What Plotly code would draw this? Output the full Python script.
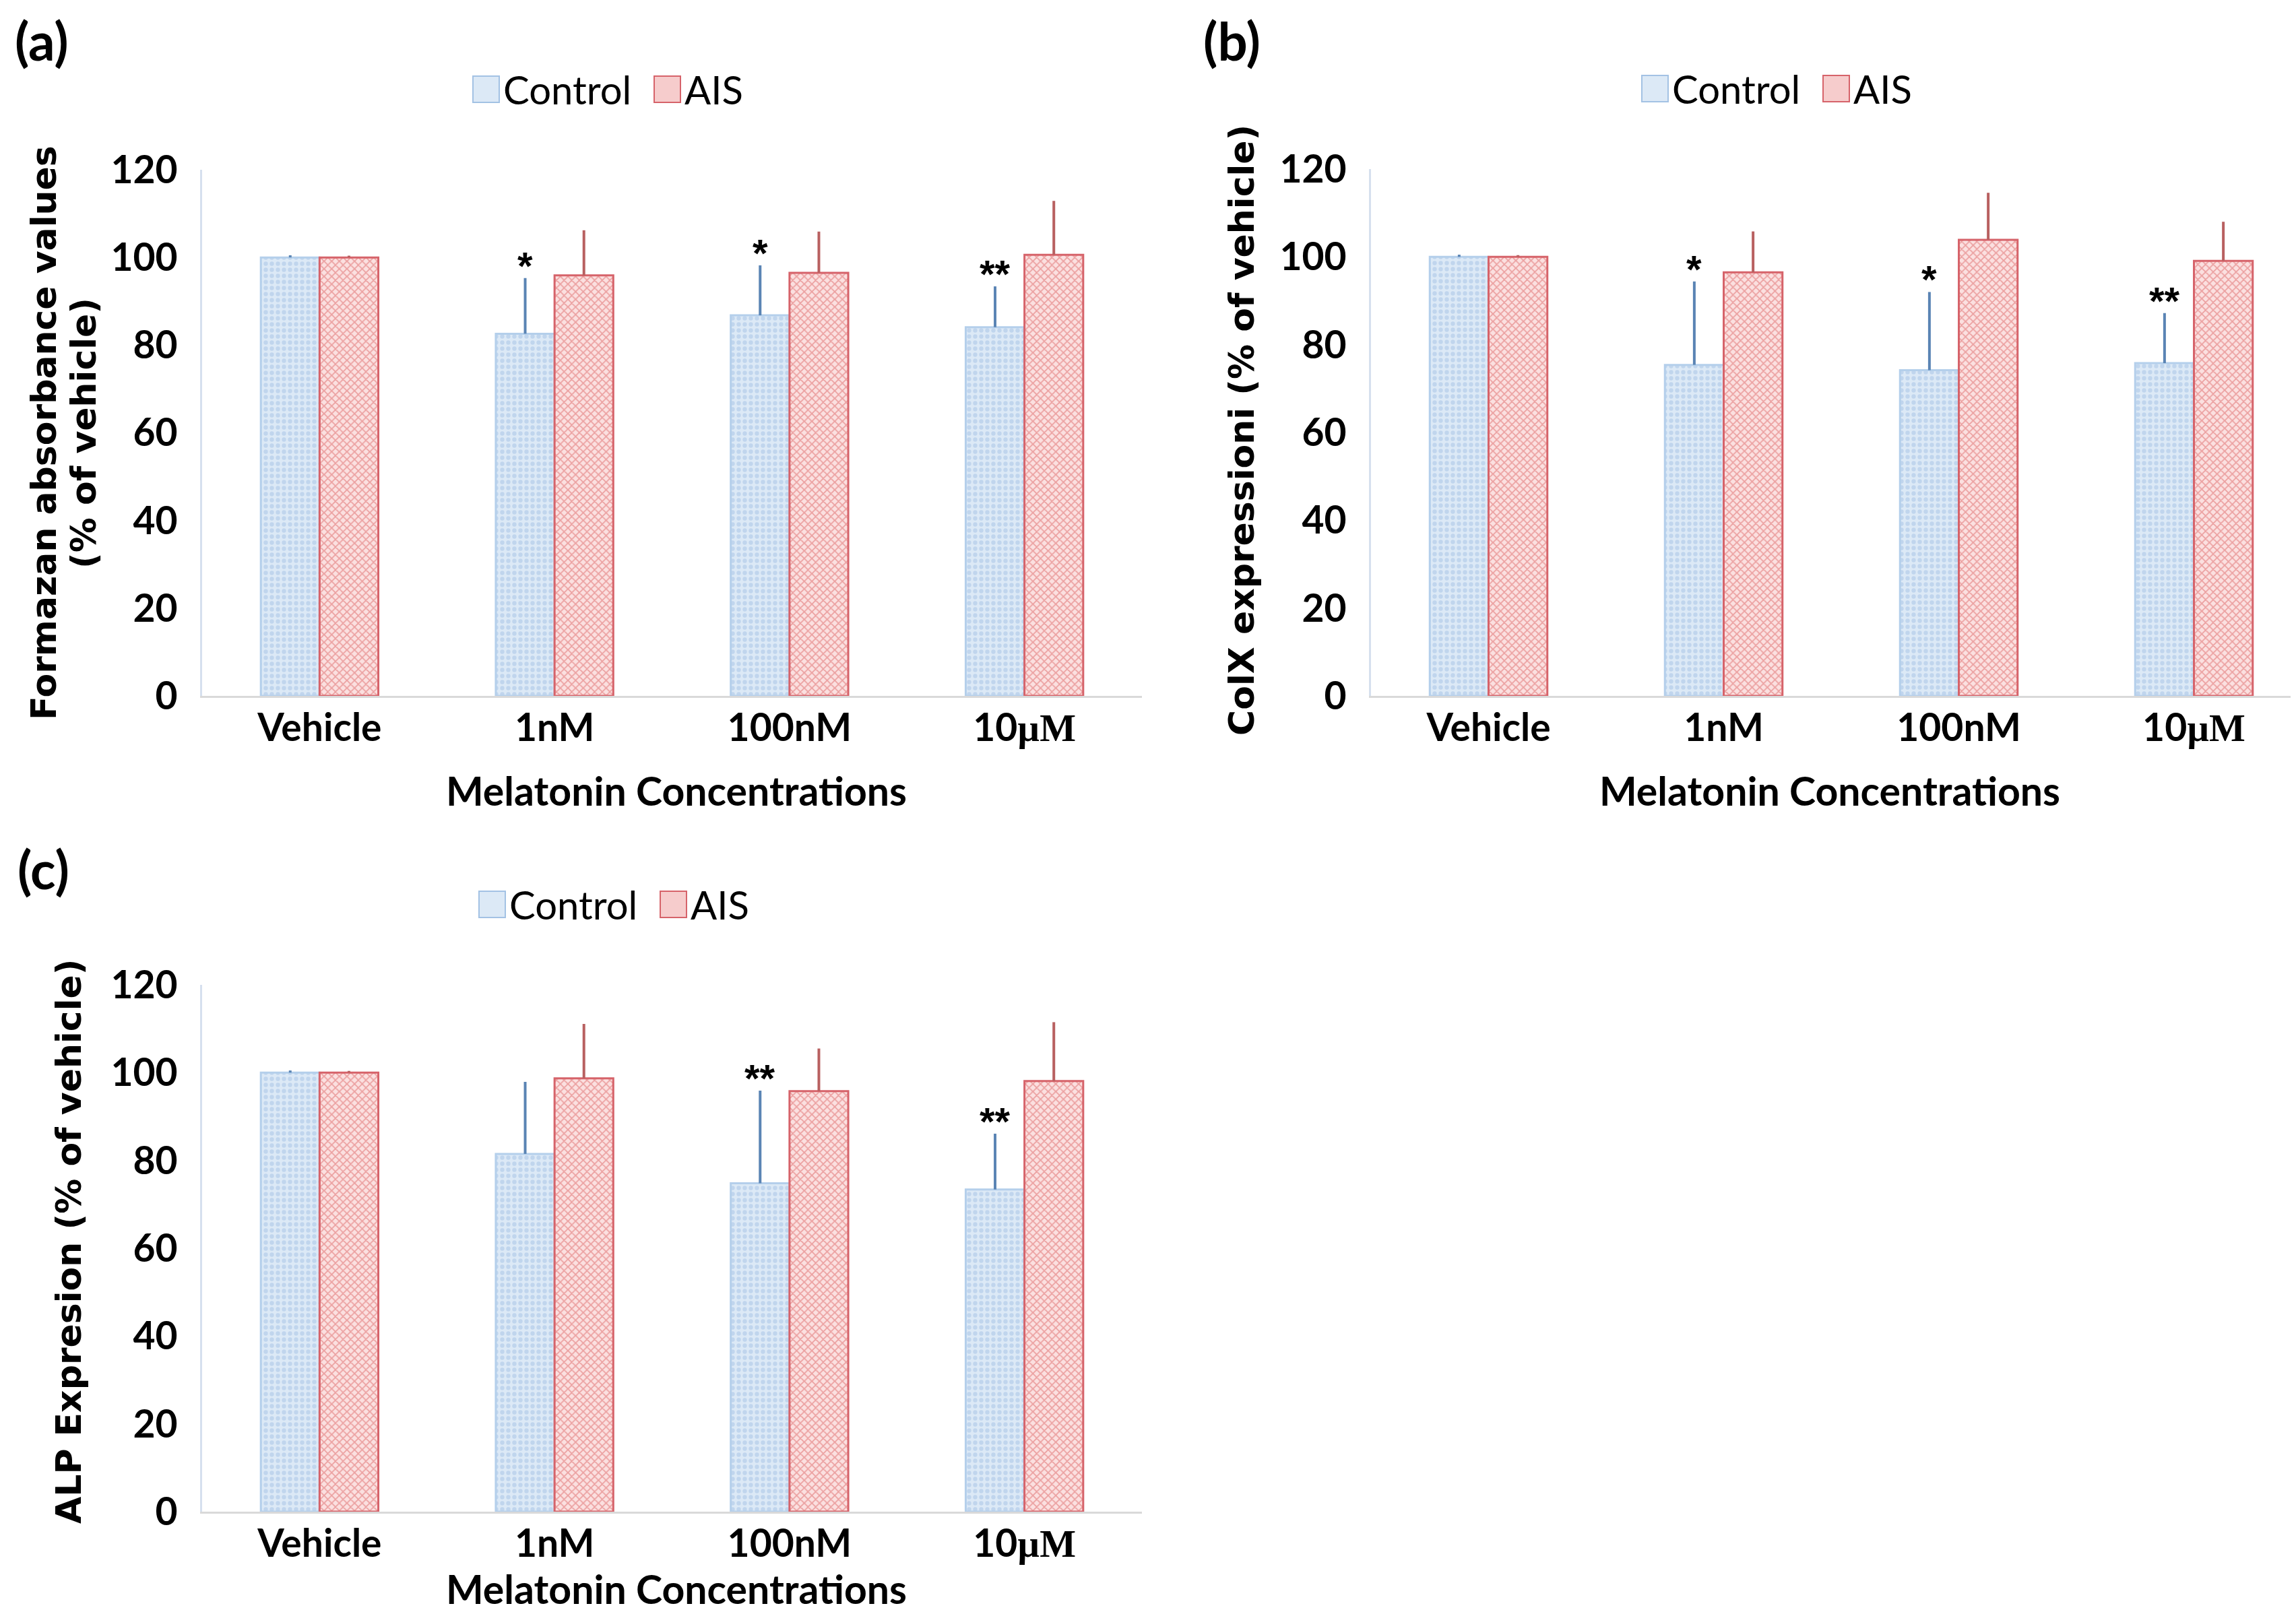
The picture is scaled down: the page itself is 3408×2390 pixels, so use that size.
import plotly.graph_objects as go

W, H = 3408, 2390
OFF = 8  # page body margin offset compensation

categories = ["Vehicle", "1nM", "100nM", "10µM"]
tick_labels = ["Vehicle", "1nM", "100nM",
               "10<span style=\"font-family:'Liberation Serif'\">µM</span>"]
y_ticks = [0, 20, 40, 60, 80, 100, 120]

# Panel (a): Formazan absorbance
a_control = [100, 82.6, 86.8, 84.1]
a_control_err = [0.5, 12.7, 11.4, 9.3]
a_ais = [100, 95.9, 96.5, 100.6]
a_ais_err = [0.4, 10.3, 9.4, 12.3]
a_stars = ["", "*", "*", "**"]

# Panel (b): ColX expression
b_control = [100, 75.4, 74.2, 75.8]
b_control_err = [0.5, 19.0, 17.8, 11.4]
b_ais = [100, 96.5, 103.9, 99.1]
b_ais_err = [0.4, 9.3, 10.7, 8.9]
b_stars = ["", "*", "*", "**"]

# Panel (c): ALP expression
c_control = [100, 81.5, 74.8, 73.4]
c_control_err = [0.5, 16.4, 21.1, 12.7]
c_ais = [100, 98.7, 95.8, 98.1]
c_ais_err = [0.4, 12.4, 9.7, 13.4]
c_stars = ["", "", "**", "**"]

series_names = ["Control", "AIS"]

panels = [
    dict(label="(a)", ctrl=a_control, ctrl_err=a_control_err, ais=a_ais, ais_err=a_ais_err,
         stars=a_stars, left=300, right=1695, y0=1033, y120=252, xr=[-0.5, 3.5],
         ytitle=["Formazan absorbance values", "(% of vehicle)"], ytx=[65, 124],
         ycenter=643, lab_xy=(20, 60), xt_y=1173, xcenter=1004, ldx=0),
    dict(label="(b)", ctrl=b_control, ctrl_err=b_control_err, ais=b_ais, ais_err=b_ais_err,
         stars=b_stars, left=2035, right=3416, y0=1033, y120=251, xr=[-0.5, 3.457],
         ytitle=["ColX expressioni (% of vehicle)"], ytx=[1843],
         ycenter=639, lab_xy=(1784, 60), xt_y=1173, xcenter=2716, ldx=0),
    dict(label="(c)", ctrl=c_control, ctrl_err=c_control_err, ais=c_ais, ais_err=c_ais_err,
         stars=c_stars, left=300, right=1695, y0=2244, y120=1462, xr=[-0.5, 3.5],
         ytitle=["ALP Expresion (% of vehicle)"], ytx=[102],
         ycenter=1843, lab_xy=(24, 1290), xt_y=2358, xcenter=1004, ldx=9),
]

def px(x):
    return min(1.0, max(0.0, (x - OFF) / W))

def py(y):
    return min(1.0, max(0.0, 1 - (y - OFF) / H))

CTRL_BG = "#dce9f6"
CTRL_FG = "#a3c2e4"
CTRL_LINE = "#b4cfeb"
CTRL_ERR = "#5a84b4"
AIS_BG = "#fbe0e0"
AIS_FG = "#dc6060"
AIS_LINE = "#d6636a"
AIS_ERR = "#b86060"

TICK_FONT = dict(family="Lato", size=57, color="black", weight="bold")
TITLE_FONT = dict(family="DejaVu Sans", size=52, color="black", weight="bold")

fig = go.Figure()
annotations = []
shapes = []
layout = {}

for k, p in enumerate(panels):
    sfx = "" if k == 0 else str(k + 1)
    xa, ya = "x" + sfx, "y" + sfx
    fig.add_trace(go.Bar(
        x=categories, y=p["ctrl"], name=series_names[0], xaxis=xa, yaxis=ya,
        showlegend=False,
        marker=dict(color=CTRL_BG, line=dict(color=CTRL_LINE, width=3),
                    pattern=dict(shape=".", fgcolor=CTRL_FG, bgcolor=CTRL_BG,
                                 size=9, solidity=0.4)),
        error_y=dict(type="data", symmetric=False, array=p["ctrl_err"],
                     arrayminus=[0] * len(categories), color=CTRL_ERR,
                     thickness=4, width=0),
    ))
    fig.add_trace(go.Bar(
        x=categories, y=p["ais"], name=series_names[1], xaxis=xa, yaxis=ya,
        showlegend=False,
        marker=dict(color=AIS_BG, line=dict(color=AIS_LINE, width=3),
                    pattern=dict(shape="x", fgcolor=AIS_FG, bgcolor=AIS_BG,
                                 size=8, solidity=0.4)),
        error_y=dict(type="data", symmetric=False, array=p["ais_err"],
                     arrayminus=[0] * len(categories), color=AIS_ERR,
                     thickness=4, width=0),
    ))
    layout["xaxis" + sfx] = dict(
        domain=[px(p["left"]), px(p["right"])], anchor=ya, range=p["xr"],
        type="category", tickmode="array", tickvals=categories, ticktext=tick_labels,
        showline=True, linecolor="#d9d9d9", linewidth=3, showgrid=False,
        zeroline=False, ticks="", tickfont=TICK_FONT, ticklabelstandoff=-4,
        automargin=False,
    )
    layout["yaxis" + sfx] = dict(
        domain=[py(p["y0"]), py(p["y120"])], anchor=xa, range=[0, 120],
        tickvals=y_ticks, showline=True, linecolor="#d6e0ee", linewidth=3,
        showgrid=False, zeroline=False, ticks="", tickfont=TICK_FONT,
        ticklabelstandoff=22, automargin=False,
    )
    # significance stars above control error bars
    for i, s in enumerate(p["stars"]):
        if s:
            annotations.append(dict(
                x=i - 0.125, y=p["ctrl"][i] + p["ctrl_err"][i], xref=xa, yref=ya,
                text=s, showarrow=False, yanchor="bottom", xanchor="center",
                font=dict(family="Liberation Sans", size=58, color="black", weight="bold"),
                yshift=-16,
            ))
    # panel label
    annotations.append(dict(
        x=px(p["lab_xy"][0]), y=py(p["lab_xy"][1]), xref="paper", yref="paper",
        text=p["label"], showarrow=False, xanchor="left", yanchor="middle",
        font=dict(family="Lato", size=78, color="black", weight="bold"),
    ))
    # y title(s)
    for line, tx in zip(p["ytitle"], p["ytx"]):
        annotations.append(dict(
            x=px(tx), y=py(p["ycenter"]), xref="paper", yref="paper", text=line,
            textangle=-90, showarrow=False, xanchor="center", yanchor="middle",
            font=TITLE_FONT,
        ))
    # x title
    annotations.append(dict(
        x=px(p["xcenter"]), y=py(p["xt_y"]), xref="paper", yref="paper",
        text="Melatonin Concentrations", showarrow=False,
        xanchor="center", yanchor="middle",
        font=dict(family="Lato", size=59, color="black", weight="bold"),
    ))
    # legend (swatches + labels), positioned relative to panel
    dx = p["left"] - 300 + p["ldx"]
    dy = p["y120"] - 252
    sw_top, sw_bot = 113 + dy, 152 + dy
    items = [(702, 741, 745, series_names[0], CTRL_BG, CTRL_FG),
             (971, 1010, 1014, series_names[1], "#f6cccc", AIS_LINE)]
    for x0, x1, tx, name, fill, lc in items:
        shapes.append(dict(type="rect", xref="paper", yref="paper",
                           x0=px(x0 + dx), x1=px(x1 + dx), y0=py(sw_bot), y1=py(sw_top),
                           fillcolor=fill, line=dict(color=lc, width=2)))
        annotations.append(dict(
            x=px(tx + dx), y=py((sw_top + sw_bot) / 2), xref="paper", yref="paper",
            text=name, showarrow=False, xanchor="left", yanchor="middle",
            font=dict(family="Lato", size=58, color="black"),
        ))

fig.update_layout(
    width=W, height=H, margin=dict(l=0, r=0, t=0, b=0, pad=0, autoexpand=False),
    paper_bgcolor="white", plot_bgcolor="white",
    barmode="group", bargap=0.5, bargroupgap=0,
    annotations=annotations, shapes=shapes, **layout,
)

fig.write_html("out.html")
